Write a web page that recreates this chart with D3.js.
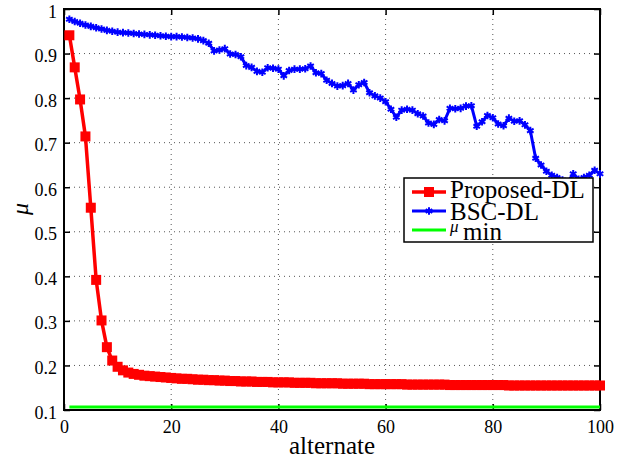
<!DOCTYPE html>
<html>
<head>
<meta charset="utf-8">
<script src="https://cdn.jsdelivr.net/npm/d3@7"></script>
<style>
  html, body { margin: 0; padding: 0; background: #fff; }
  svg { display: block; }
</style>
</head>
<body>
<svg id="chart" width="629" height="464"></svg>
<script>
// ---------------- data ----------------
const iterations = [
  1,2,3,4,5,6,7,8,9,10,11,12,13,14,15,16,17,18,19,20,
  21,22,23,24,25,26,27,28,29,30,31,32,33,34,35,36,37,38,39,40,
  41,42,43,44,45,46,47,48,49,50,51,52,53,54,55,56,57,58,59,60,
  61,62,63,64,65,66,67,68,69,70,71,72,73,74,75,76,77,78,79,80,
  81,82,83,84,85,86,87,88,89,90,91,92,93,94,95,96,97,98,99,100
];
const proposedDL = [
  0.941,0.869,0.797,0.714,0.554,0.392,0.301,0.241,0.211,0.197,
  0.189,0.184,0.181,0.179,0.177,0.176,0.175,0.174,0.173,0.172,
  0.171,0.170,0.170,0.169,0.168,0.168,0.167,0.167,0.166,0.166,
  0.165,0.165,0.164,0.164,0.164,0.163,0.163,0.163,0.162,0.162,
  0.162,0.162,0.161,0.161,0.161,0.161,0.160,0.160,0.160,0.160,
  0.160,0.159,0.159,0.159,0.159,0.159,0.158,0.158,0.158,0.158,
  0.158,0.158,0.158,0.157,0.157,0.157,0.157,0.157,0.157,0.157,
  0.157,0.156,0.156,0.156,0.156,0.156,0.156,0.156,0.156,0.156,
  0.156,0.156,0.155,0.155,0.155,0.155,0.155,0.155,0.155,0.155,
  0.155,0.155,0.155,0.155,0.155,0.155,0.155,0.155,0.155,0.155
];
const bscDL = [
  0.977,0.972,0.968,0.964,0.961,0.958,0.955,0.952,0.950,0.948,
  0.947,0.946,0.945,0.944,0.943,0.942,0.941,0.940,0.939,0.938,
  0.938,0.937,0.936,0.935,0.933,0.929,0.923,0.906,0.908,0.911,
  0.899,0.898,0.893,0.873,0.869,0.860,0.858,0.868,0.867,0.865,
  0.850,0.862,0.865,0.865,0.866,0.872,0.857,0.855,0.840,0.833,
  0.827,0.828,0.833,0.818,0.830,0.835,0.812,0.805,0.800,0.792,
  0.775,0.757,0.773,0.775,0.773,0.765,0.760,0.744,0.741,0.752,
  0.749,0.777,0.776,0.777,0.782,0.783,0.737,0.747,0.761,0.756,
  0.742,0.738,0.755,0.748,0.749,0.740,0.727,0.665,0.650,0.636,
  0.627,0.622,0.616,0.612,0.630,0.618,0.622,0.627,0.638,0.630
];
const muMinX = [1, 100];
const muMinY = [0.107, 0.107];

const xTicks = [0, 20, 40, 60, 80, 100];
const yTicks = [0.1, 0.2, 0.3, 0.4, 0.5, 0.6, 0.7, 0.8, 0.9, 1];
const xLabel = "alternate";
const yLabel = "μ";
const legendNames = ["Proposed-DL", "BSC-DL"];

// ---------------- layout ----------------
const SERIF = "Liberation Serif, Times New Roman, DejaVu Serif, serif";
const svg = d3.select("#chart");
const L = 64, R = 600, T = 9, B = 410;
const x = d3.scaleLinear().domain([0, 100]).range([L, R]);
const y = d3.scaleLinear().domain([0.1, 1]).range([B, T]);

// grid
const grid = svg.append("g");
grid.selectAll("line.gx").data(xTicks.filter(d => d > 0 && d < 100)).join("line")
  .attr("x1", d => x(d)).attr("x2", d => x(d)).attr("y1", T).attr("y2", B)
  .attr("stroke", "#555").attr("stroke-width", 1).attr("stroke-dasharray", "1,4");
grid.selectAll("line.gy").data(yTicks.filter(d => d > 0.1 && d < 1)).join("line")
  .attr("y1", d => y(d)).attr("y2", d => y(d)).attr("x1", L).attr("x2", R)
  .attr("stroke", "#555").attr("stroke-width", 1).attr("stroke-dasharray", "1,4");

// axes with inward ticks
const tl = 6;
const fmtY = d => (d === 1 ? "1" : d3.format(".1f")(d));
const axB = svg.append("g").attr("transform", `translate(0,${B})`)
  .call(d3.axisBottom(x).tickValues(xTicks).tickSizeInner(-tl).tickSizeOuter(0).tickPadding(10));
const axL = svg.append("g").attr("transform", `translate(${L},0)`)
  .call(d3.axisLeft(y).tickValues(yTicks).tickFormat(fmtY).tickSizeInner(-tl).tickSizeOuter(0).tickPadding(7));
const axT = svg.append("g").attr("transform", `translate(0,${T})`)
  .call(d3.axisTop(x).tickValues(xTicks).tickSizeInner(-tl).tickSizeOuter(0).tickFormat(""));
const axR = svg.append("g").attr("transform", `translate(${R},0)`)
  .call(d3.axisRight(y).tickValues(yTicks).tickSizeInner(-tl).tickSizeOuter(0).tickFormat(""));
[axB, axL, axT, axR].forEach(a => {
  a.attr("font-family", null);
  a.select(".domain").remove();
  a.selectAll(".tick line").attr("stroke", "#000").attr("stroke-width", 1.5);
  a.selectAll("text").style("font-family", SERIF).attr("fill", "#000").attr("font-size", 18);
});
axB.selectAll("text").attr("dy", "0.71em").attr("y", 10);
axL.selectAll("text").attr("dy", "0.45em");

// frame
svg.append("rect").attr("x", L).attr("y", T).attr("width", R - L).attr("height", B - T)
  .attr("fill", "none").attr("stroke", "#000").attr("stroke-width", 2);

// lines
const line = d3.line().x(d => x(d[0])).y(d => y(d[1]));
const redPts = iterations.map((d, i) => [d, proposedDL[i]]);
const bluePts = iterations.map((d, i) => [d, bscDL[i]]);
const greenPts = muMinX.map((d, i) => [d, muMinY[i]]);

svg.append("path").datum(redPts).attr("d", line)
  .attr("fill", "none").attr("stroke", "#ff0000").attr("stroke-width", 3.5);
const sq = 10;
svg.append("g").selectAll("rect").data(redPts).join("rect")
  .attr("x", d => x(d[0]) - sq / 2).attr("y", d => y(d[1]) - sq / 2)
  .attr("width", sq).attr("height", sq).attr("fill", "#ff0000");

svg.append("path").datum(bluePts).attr("d", line)
  .attr("fill", "none").attr("stroke", "#0000ff").attr("stroke-width", 3);
const star = d3.symbol().type(d3.symbolAsterisk).size(40);
svg.append("g").selectAll("path").data(bluePts).join("path")
  .attr("transform", d => `translate(${x(d[0])},${y(d[1])})`)
  .attr("d", star).attr("fill", "none").attr("stroke", "#0000ff").attr("stroke-width", 2);

svg.append("path").datum(greenPts).attr("d", line)
  .attr("fill", "none").attr("stroke", "#00ff00").attr("stroke-width", 3);

// axis labels
svg.append("text").attr("x", (L + R) / 2).attr("y", 454).attr("text-anchor", "middle")
  .style("font-family", SERIF).attr("font-size", 25).text(xLabel);
svg.append("text").attr("transform", "translate(28,209) rotate(-90)").attr("text-anchor", "middle")
  .style("font-family", SERIF).attr("font-size", 24).attr("font-style", "italic").text(yLabel);

// legend
const lg = svg.append("g").style("font-family", SERIF);
lg.append("rect").attr("x", 404).attr("y", 178).attr("width", 189).attr("height", 64)
  .attr("fill", "#fff").attr("stroke", "#000").attr("stroke-width", 1.5);
const lx1 = 412, lx2 = 446, tx = 450;
lg.append("line").attr("x1", lx1).attr("x2", lx2).attr("y1", 192).attr("y2", 192)
  .attr("stroke", "#ff0000").attr("stroke-width", 3.5);
lg.append("rect").attr("x", (lx1 + lx2) / 2 - 5).attr("y", 187).attr("width", 10).attr("height", 10).attr("fill", "#ff0000");
lg.append("text").attr("x", tx).attr("y", 198).attr("font-size", 25).text(legendNames[0]);
lg.append("line").attr("x1", lx1).attr("x2", lx2).attr("y1", 211).attr("y2", 211)
  .attr("stroke", "#0000ff").attr("stroke-width", 3);
lg.append("path").attr("transform", `translate(${(lx1 + lx2) / 2},211)`).attr("d", star)
  .attr("fill", "none").attr("stroke", "#0000ff").attr("stroke-width", 2);
lg.append("text").attr("x", tx).attr("y", 220).attr("font-size", 25).text(legendNames[1]);
lg.append("line").attr("x1", lx1).attr("x2", lx2).attr("y1", 230).attr("y2", 230)
  .attr("stroke", "#00ff00").attr("stroke-width", 3);
lg.append("text").attr("x", tx).attr("y", 232).attr("font-size", 17).attr("font-style", "italic").text("μ");
lg.append("text").attr("x", 463).attr("y", 239.5).attr("font-size", 25).text("min");
</script>
</body>
</html>
